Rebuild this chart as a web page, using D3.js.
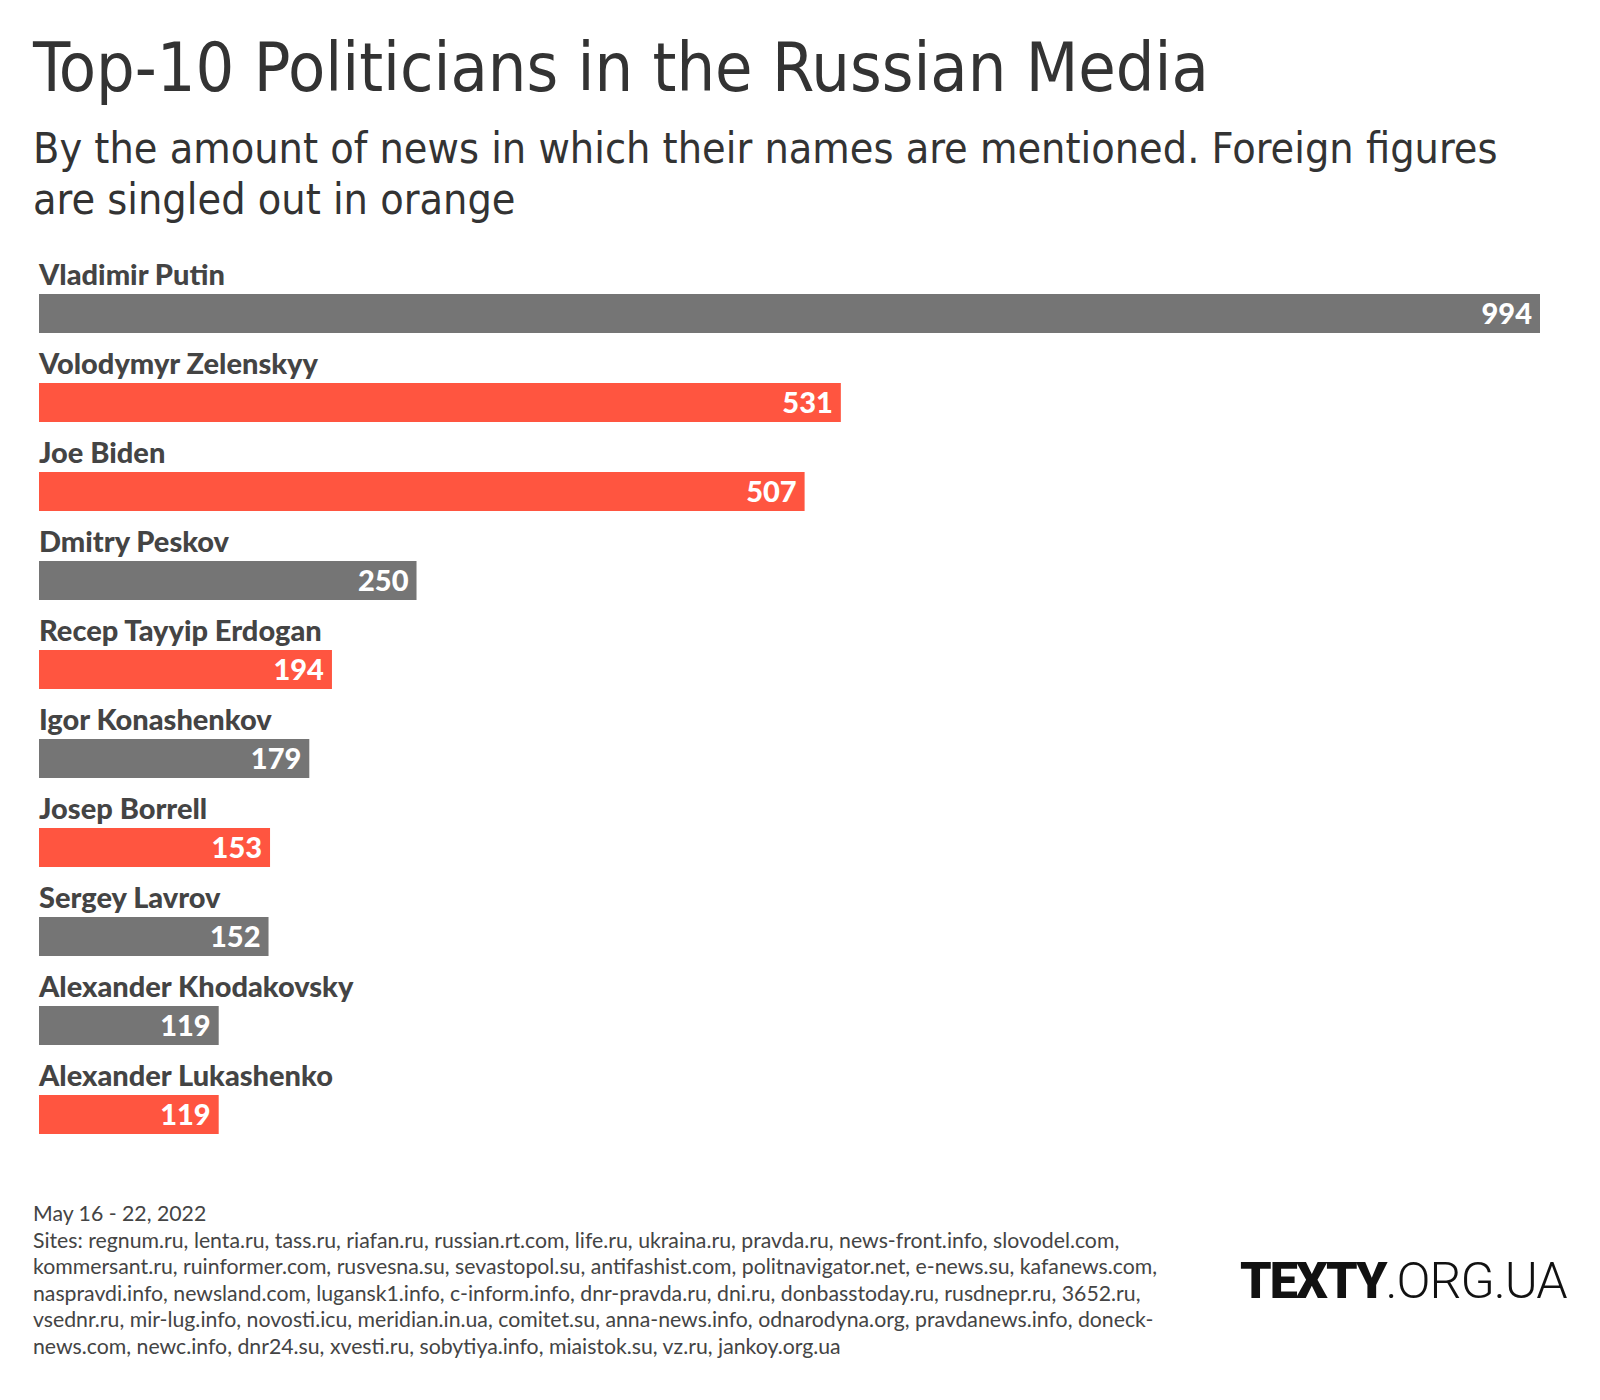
<!DOCTYPE html>
<html>
<head>
<meta charset="utf-8">
<script src="https://cdn.jsdelivr.net/npm/d3@7"></script>
<style>
  html, body { margin: 0; padding: 0; background: #fff; }
</style>
</head>
<body>
<svg id="chart" width="1600" height="1400"></svg>
<script>
const names = ["Vladimir Putin", "Volodymyr Zelenskyy", "Joe Biden", "Dmitry Peskov",
  "Recep Tayyip Erdogan", "Igor Konashenkov", "Josep Borrell", "Sergey Lavrov",
  "Alexander Khodakovsky", "Alexander Lukashenko"];
const values = [994, 531, 507, 250, 194, 179, 153, 152, 119, 119];
const foreign = [false, true, true, false, true, false, true, false, false, true];

const title = "Top-10 Politicians in the Russian Media";
const subtitleLines = ["By the amount of news in which their names are mentioned. Foreign figures",
  "are singled out in orange"];
const footerLines = [
  "May 16 - 22, 2022",
  "Sites: regnum.ru, lenta.ru, tass.ru, riafan.ru, russian.rt.com, life.ru, ukraina.ru, pravda.ru, news-front.info, slovodel.com,",
  "kommersant.ru, ruinformer.com, rusvesna.su, sevastopol.su, antifashist.com, politnavigator.net, e-news.su, kafanews.com,",
  "naspravdi.info, newsland.com, lugansk1.info, c-inform.info, dnr-pravda.ru, dni.ru, donbasstoday.ru, rusdnepr.ru, 3652.ru,",
  "vsednr.ru, mir-lug.info, novosti.icu, meridian.in.ua, comitet.su, anna-news.info, odnarodyna.org, pravdanews.info, doneck-",
  "news.com, newc.info, dnr24.su, xvesti.ru, sobytiya.info, miaistok.su, vz.ru, jankoy.org.ua"
];

const GRAY = "#757575", ORANGE = "#ff5540", TEXT = "#333333", LABEL = "#444444";
const condensed = "'Liberation Sans Narrow', 'DejaVu Sans Condensed', 'Roboto', sans-serif";
const body = "'Lato', 'Noto Sans', sans-serif";

const svg = d3.select("#chart");

function fitWidth(sel, target) {
  const node = sel.node();
  const fs = parseFloat(sel.attr("font-size"));
  const w = node.getComputedTextLength();
  if (w > 0) sel.attr("font-size", fs * target / w);
}

// Title
const t = svg.append("text")
  .attr("x", 33).attr("y", 91)
  .style("font-family", condensed)
  .attr("font-size", 68).attr("font-weight", 400)
  .attr("fill", TEXT).text(title);
fitWidth(t, 1176);

// Subtitle
const sub1 = svg.append("text").attr("x", 33).attr("y", 163)
  .style("font-family", condensed).attr("font-size", 44)
  .attr("fill", TEXT).text(subtitleLines[0]);
fitWidth(sub1, 1465);
svg.append("text").attr("x", 33).attr("y", 214)
  .style("font-family", condensed).attr("font-size", sub1.attr("font-size"))
  .attr("fill", TEXT).text(subtitleLines[1]);

// Scales
const x = d3.scaleLinear().domain([0, d3.max(values)]).range([39, 1540]);
const y = d3.scaleBand().domain(names).range([294, 1134]).paddingInner(50 / 89).paddingOuter(0);

const data = names.map((n, i) => ({ name: n, value: values[i], foreign: foreign[i] }));

const g = svg.append("g");
g.selectAll("rect.bar").data(data).join("rect")
  .attr("class", "bar")
  .attr("x", x(0)).attr("y", d => y(d.name))
  .attr("width", d => x(d.value) - x(0))
  .attr("height", y.bandwidth())
  .attr("fill", d => d.foreign ? ORANGE : GRAY);

g.selectAll("text.name").data(data).join("text")
  .attr("class", "name")
  .attr("x", x(0)).attr("y", d => y(d.name) - 9)
  .style("font-family", body)
  .attr("font-size", 29).attr("font-weight", 900)
  .attr("fill", LABEL).text(d => d.name);

g.selectAll("text.val").data(data).join("text")
  .attr("class", "val")
  .attr("x", d => x(d.value) - 8).attr("y", d => y(d.name) + y.bandwidth() / 2 + 10)
  .attr("text-anchor", "end")
  .style("font-family", body)
  .attr("font-size", 29).attr("font-weight", 900)
  .attr("fill", "#fff").text(d => d.value);

// Footer
const foot = svg.append("g").selectAll("text").data(footerLines).join("text")
  .attr("x", 33).attr("y", (d, i) => 1221 + i * 26.6)
  .attr("font-size", 18.5).attr("fill", LABEL)
  .style("font-family", body)
  .text(d => d);
{
  const ref = d3.select(foot.nodes()[1]);
  const w = ref.node().getComputedTextLength();
  const fs = 18.5 * 1087 / w;
  foot.attr("font-size", fs);
}

// Logo
const logo = svg.append("text").attr("x", 1240).attr("y", 1298)
  .style("font-family", "'Roboto', sans-serif").attr("font-size", 48).attr("fill", "#111");
logo.append("tspan").attr("font-weight", 900).attr("letter-spacing", -2).text("TEXTY");
logo.append("tspan").attr("font-weight", 300).attr("letter-spacing", -1).text(".ORG.UA");
fitWidth(logo, 326);
</script>
</body>
</html>
